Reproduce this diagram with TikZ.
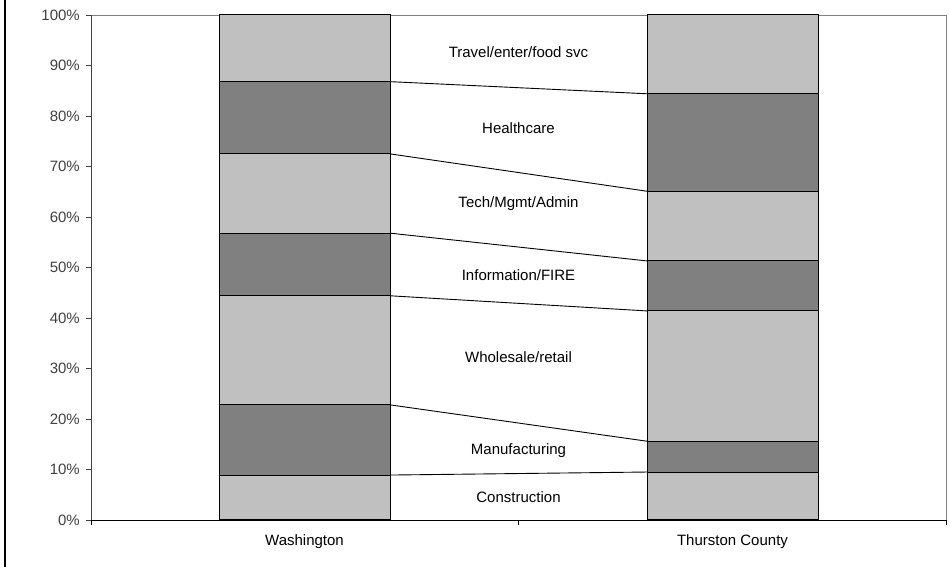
\documentclass[tikz,border=0pt]{standalone}
\usepackage{fontspec}
\setmainfont{Liberation Sans}

\definecolor{lightbar}{HTML}{C0C0C0}
\definecolor{darkbar}{HTML}{808080}

\begin{document}
\begin{tikzpicture}[x=1pt,y=1pt,
	every node/.style={font=\fontsize{15}{18}\selectfont},
	segbox/.style={draw=black,line width=1pt},
	link/.style={draw=black,line width=0.9pt}]
	\useasboundingbox (0,0) rectangle (950,567);
	\draw[line width=2pt] (5,0) -- (5,567);
	\begin{scope}[shift={(0,47)},y=5.05pt]
		% plot frame and axes
		\draw[black!50] (91,100) -- (946,100) -- (946,0);
		\draw[black!75] (91,0) -- (91,100);
		\foreach \p in {0,10,...,100}
			\draw[black!75] (86,\p) -- (91,\p) node[pos=0,anchor=east,inner sep=0pt,xshift=-6pt] {\p\%};
		\draw (91,0) -- (946,0);
		\foreach \x in {91,518.5,946}
			\draw (\x,0) -- (\x,-1);
		% Washington
		\foreach \a/\b/\c in {0/8.9/lightbar, 8.9/22.8/darkbar, 22.8/44.4/lightbar,
			44.4/56.8/darkbar, 56.8/72.5/lightbar, 72.5/86.8/darkbar, 86.8/100/lightbar}
			\draw[segbox,fill=\c] (219,\a) rectangle (390,\b);
		% Thurston County
		\foreach \a/\b/\c in {0/9.5/lightbar, 9.5/15.6/darkbar, 15.6/41.4/lightbar,
			41.4/51.3/darkbar, 51.3/65.1/lightbar, 65.1/84.4/darkbar, 84.4/100/lightbar}
			\draw[segbox,fill=\c] (647,\a) rectangle (818,\b);
		% links between the bars
		\foreach \i/\w/\t in {1/8.9/9.5, 2/22.8/15.6, 3/44.4/41.4, 4/56.8/51.3,
			5/72.5/65.1, 6/86.8/84.4} {
			\coordinate (W\i) at (390,\w);
			\coordinate (T\i) at (647,\t);
			\draw[link] (W\i) -- (T\i);
		}
		% sector names
		\node (travel) at (518.5,92.7) {Travel/enter/food svc};
		\node (health) at (518.5,77.6) {Healthcare};
		\node (tech) at (518.5,62.6) {Tech/Mgmt/Admin};
		\node (info) at (518.5,48.5) {Information/FIRE};
		\node (trade) at (518.5,32.3) {Wholesale/retail};
		\node (manuf) at (518.5,13.7) {Manufacturing};
		\node (constr) at (518.5,4.6) {Construction};
		% categories
		\node (wash) at (304.5,-4.2) {Washington};
		\node (thurston) at (732.5,-4.2) {Thurston County};
	\end{scope}
\end{tikzpicture}
\end{document}
